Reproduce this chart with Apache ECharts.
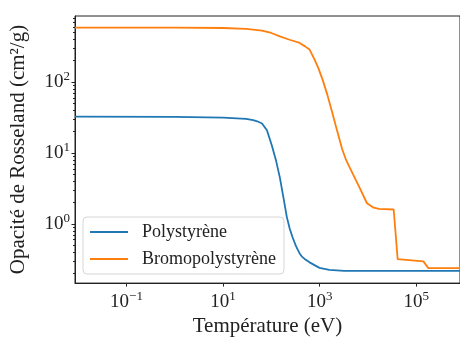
<!DOCTYPE html>
<html lang="fr">
<head>
<meta charset="utf-8" />
<title>Opacité de Rosseland</title>
<script src="https://cdn.jsdelivr.net/npm/echarts@6/dist/echarts.min.js"></script>
<style>
  html, body { margin: 0; padding: 0; background: #fff; }
  #chart { width: 460px; height: 342px; }
</style>
</head>
<body>
<div id="chart"></div>
<script>
// données (température en eV, opacité en cm2/g)
var tempPoly = [0.0086, 1, 10, 30, 42, 51, 64, 81, 102, 124, 150, 181, 209, 241, 277, 319, 351, 385, 424, 488, 618, 991, 1585, 3220, 1e6];
var opacPoly = [32.6, 32.3, 31.5, 30.3, 29.0, 28.0, 26.1, 20.9, 12.9, 8.0, 4.5, 2.2, 1.25, 0.85, 0.64, 0.5, 0.435, 0.385, 0.35, 0.322, 0.288, 0.241, 0.226, 0.219, 0.219];

var tempBromo = [0.0086, 1, 10, 30, 64, 100, 150, 230, 300, 385, 488, 618, 782, 944, 1140, 1445, 1828, 2316, 2930, 3450, 4080, 6550, 9550, 12650, 16800, 34100, 41200, 140600, 178000, 1e6];
var opacBromo = [586, 584, 578, 562, 530, 492, 440, 398, 376, 356, 321, 287, 209, 156, 110, 66, 37, 20.2, 11.3, 8.3, 6.5, 3.37, 1.96, 1.72, 1.63, 1.6, 0.319, 0.297, 0.239, 0.239];

var seriesNames = ['Polystyrène', 'Bromopolystyrène'];
var xMajor = [0.1, 10, 1000, 100000];
var yMajor = [1, 10, 100];

var xMin = Math.pow(10, -2.066), xMax = Math.pow(10, 5.906);
var yMin = Math.pow(10, -0.833), yMax = Math.pow(10, 2.931);

// petites graduations log (2..9 par décade)
var yMinor = [];
for (var e = -1; e <= 2; e++) {
  for (var k = 2; k <= 9; k++) {
    var v = k * Math.pow(10, e);
    if (v > yMin && v < yMax) yMinor.push(v);
  }
}

function pairs(xs, ys) {
  return xs.map(function (x, i) { return [x, ys[i]]; });
}

function powLabel(v) {
  var n = Math.round(Math.log10(v));
  return '{b|10}{s|' + (n < 0 ? '\u2212' + (-n) : n) + '}';
}

var font = 'Liberation Serif';
var ink = '#222';
var labelRich = {
  b: { fontFamily: font, fontSize: 19, color: ink },
  s: { fontFamily: font, fontSize: 13, color: ink, padding: [0, 0, 10, 0] }
};

var chart = echarts.init(document.getElementById('chart'));
chart.setOption({
  animation: false,
  grid: { left: 73, right: -2, top: 16, bottom: 55, show: true, borderColor: ink, borderWidth: 1 },
  legend: {
    left: 83, top: 217,
    orient: 'vertical',
    padding: [6, 8, 6, 7],
    itemGap: 9,
    itemWidth: 38, itemHeight: 2,
    icon: 'rect',
    borderColor: '#d6d6d6', borderWidth: 1, borderRadius: 4,
    backgroundColor: 'rgba(255,255,255,0.8)',
    textStyle: { fontFamily: font, fontSize: 18, color: ink, padding: [0, 0, 0, 9] },
    data: seriesNames
  },
  xAxis: {
    type: 'log',
    min: xMin, max: xMax,
    name: 'Température (eV)',
    nameLocation: 'middle',
    nameGap: 30,
    nameTextStyle: { fontFamily: font, fontSize: 21, color: ink },
    axisLine: { lineStyle: { color: ink, width: 1 } },
    axisTick: { length: 3.5, customValues: xMajor, lineStyle: { color: ink } },
    axisLabel: { margin: 7, customValues: xMajor, formatter: powLabel, rich: labelRich },
    splitLine: { show: false },
    minorTick: { show: false }
  },
  yAxis: [{
    type: 'log',
    min: yMin, max: yMax,
    name: 'Opacité de Rosseland (cm²/g)',
    nameLocation: 'middle',
    nameGap: 46,
    nameTextStyle: { fontFamily: font, fontSize: 21, color: ink },
    axisLine: { lineStyle: { color: ink, width: 1 } },
    axisTick: { length: 3.5, customValues: yMajor, lineStyle: { color: ink } },
    axisLabel: { margin: 5, customValues: yMajor, formatter: powLabel, rich: labelRich },
    splitLine: { show: false }
  }, {
    type: 'log',
    min: yMin, max: yMax,
    position: 'left',
    axisLine: { show: false },
    axisTick: { length: 2, customValues: yMinor, lineStyle: { color: ink } },
    axisLabel: { show: false },
    splitLine: { show: false }
  }],
  series: [{
    name: seriesNames[0],
    type: 'line',
    showSymbol: false,
    color: '#1f77b4',
    lineStyle: { width: 1.8 },
    data: pairs(tempPoly, opacPoly)
  }, {
    name: seriesNames[1],
    type: 'line',
    showSymbol: false,
    color: '#ff7f0e',
    lineStyle: { width: 1.8 },
    data: pairs(tempBromo, opacBromo)
  }]
});

window.onresize = function () { chart.resize(); };
</script>
</body>
</html>
